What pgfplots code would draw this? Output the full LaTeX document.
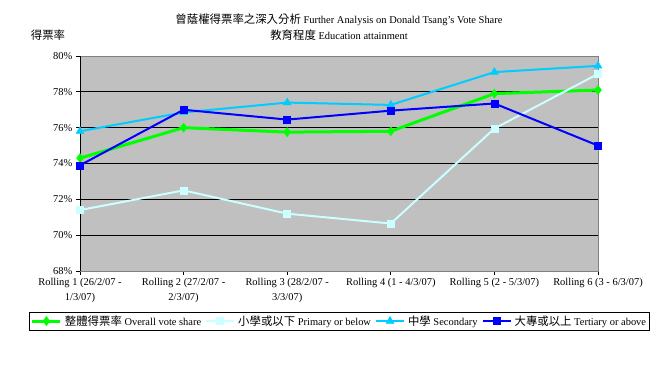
\documentclass[border=0pt]{standalone}
\usepackage{pgfplots}
\pgfplotsset{compat=1.18}
\usepackage{fontspec}
\setmainfont{Liberation Serif}
\newfontfamily\cjk[Scale=1.09]{Noto Sans CJK TC}
\definecolor{grn}{HTML}{00FF00}
\definecolor{lcyan}{HTML}{CCFFFF}
\definecolor{sky}{HTML}{00CCFF}
\definecolor{blu}{HTML}{0000FF}
\definecolor{bg}{HTML}{C0C0C0}
\begin{document}
\fontsize{10.5}{12}\selectfont
\begin{tikzpicture}
\path[use as bounding box] (0bp,0bp) rectangle (672bp,376bp);
\begin{axis}[
 at={(80bp,105bp)}, anchor=south west, scale only axis,
 width=518bp, height=215bp,
 xmin=0, xmax=5, ymin=68, ymax=80,
 ytick={68,70,...,80},
 yticklabel={\pgfmathprintnumber{\tick}\%},
 /pgf/number format/assume math mode=true,
 xtick={0,...,5},
 xticklabels={{Rolling 1 (26/2/07 -\\1/3/07)},{Rolling 2 (27/2/07 -\\2/3/07)},{Rolling 3 (28/2/07 -\\3/3/07)},{Rolling 4 (1 - 4/3/07)},{Rolling 5 (2 - 5/3/07)},{Rolling 6 (3 - 6/3/07)}},
 xticklabel style={align=center, font=\fontsize{10.5}{15}\selectfont},
 yticklabel style={font=\fontsize{10.5}{12}\selectfont},
 tick align=outside, tick pos=left, major tick length=4bp,
 tick style={black, line width=0.8bp},
 ymajorgrids, major grid style={black, line width=0.8bp},
 axis line style={draw=gray, line width=0.8bp},
 axis background/.style={fill=bg},
 legend columns=4,
 legend image code/.code={\draw[mark repeat=2,mark phase=2] plot coordinates {(0bp,0bp)(14bp,0bp)(28bp,0bp)};},
 legend style={at={(0.501,-0.2326)}, anchor=center, draw=black, line width=0.8bp,
   font=\fontsize{10.5}{12}\selectfont, inner sep=1.5bp,
   /tikz/every even column/.append style={column sep=2bp},
   /tikz/every odd column/.append style={column sep=1bp}},
]
\addplot[grn, line width=3bp, mark=diamond*, mark size=4.5bp, mark options={solid, line width=0.5bp}] coordinates {
 (0,74.3) (1,76.0) (2,75.75) (3,75.8) (4,77.9) (5,78.1)};
\addlegendentry{{\cjk 整體得票率} Overall vote share}
\addplot[lcyan, line width=2bp, mark=square*, mark size=3.5bp, mark options={solid, line width=0.5bp}] coordinates {
 (0,71.4) (1,72.5) (2,71.2) (3,70.65) (4,75.95) (5,79.0)};
\addlegendentry{{\cjk 小學或以下} Primary or below}
\addplot[sky, line width=2bp, mark=triangle*, mark size=4.5bp, mark options={solid, line width=0.5bp}] coordinates {
 (0,75.8) (1,76.85) (2,77.4) (3,77.27) (4,79.1) (5,79.45)};
\addlegendentry{{\cjk 中學} Secondary}
\addplot[blu, line width=2bp, mark=square*, mark size=3.5bp, mark options={solid, line width=0.5bp}] coordinates {
 (0,73.9) (1,77.0) (2,76.45) (3,76.95) (4,77.35) (5,75.0)};
\addlegendentry{{\cjk 大專或以上} Tertiary or above}
\draw[black, line width=0.8bp] (rel axis cs:0,1) -- (rel axis cs:0,0) -- (rel axis cs:1,0);
\end{axis}
\node[font=\fontsize{10.5}{12}\selectfont] at (339bp,356bp) {{\cjk 曾蔭權得票率之深入分析} Further Analysis on Donald Tsang's Vote Share};
\node[font=\fontsize{10.5}{12}\selectfont] at (339bp,341bp) {{\cjk 教育程度} Education attainment};
\node[font=\fontsize{10.5}{12}\selectfont] at (48bp,341bp) {\cjk 得票率};
\end{tikzpicture}
\end{document}
